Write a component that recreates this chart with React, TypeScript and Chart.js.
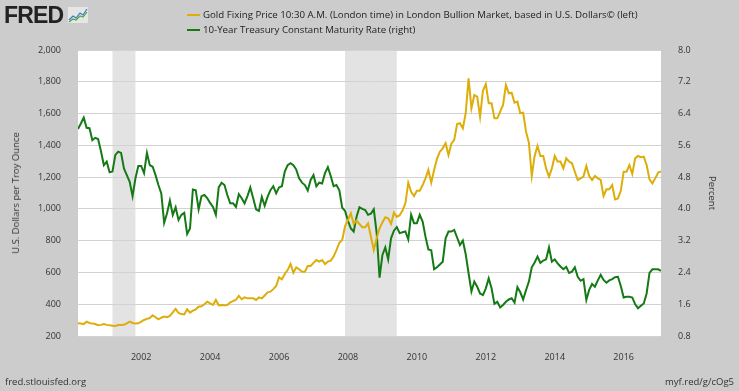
import React, { useEffect, useRef } from "react";
import { Chart, registerables } from "chart.js";

Chart.register(...registerables);

// Monthly observations, March 2000 .. February 2017
const START_YEAR = 2000;
const START_MONTH = 3;

const goldPrice = [
  // 2000 (Mar-Dec)
  280, 278, 275, 290, 282, 278, 275, 268, 270, 275,
  // 2001
  270, 267, 265, 263, 269, 270, 271, 280, 290, 282, 278, 280,
  // 2002
  290, 301, 308, 313, 330, 318, 305, 315, 322, 318, 326, 348,
  // 2003
  370, 345, 338, 336, 368, 347, 360, 368, 384, 387, 400, 416,
  // 2004
  405, 395, 427, 393, 395, 394, 395, 412, 420, 428, 452, 431,
  // 2005
  443, 437, 437, 437, 427, 443, 437, 455, 475, 479, 495, 515,
  // 2006
  569, 557, 590, 615, 653, 598, 632, 620, 605, 605, 641, 641,
  // 2007
  660, 678, 668, 678, 653, 668, 674, 700, 741, 787, 804, 892,
  // 2008
  930, 972, 905, 926, 905, 884, 884, 909, 825, 741, 815, 878,
  // 2009
  915, 947, 941, 905, 976, 950, 960, 990, 1035, 1165, 1108, 1081,
  // 2010
  1114, 1114, 1150, 1192, 1245, 1165, 1245, 1315, 1360, 1381, 1413, 1339,
  // 2011
  1410, 1434, 1534, 1539, 1507, 1602, 1822, 1633, 1717, 1706, 1580, 1744,
  // 2012
  1786, 1665, 1665, 1570, 1570, 1612, 1654, 1780, 1727, 1731, 1668, 1675,
  // 2013
  1602, 1606, 1486, 1417, 1207, 1333, 1396, 1333, 1333, 1255, 1203, 1255,
  // 2014
  1333, 1298, 1298, 1255, 1318, 1298, 1287, 1234, 1182, 1192, 1203, 1270,
  // 2015
  1207, 1182, 1207, 1192, 1182, 1081, 1123, 1123, 1150, 1060, 1066, 1114,
  // 2016
  1234, 1234, 1276, 1220, 1318, 1333, 1325, 1329, 1276, 1186, 1161, 1192,
  // 2017 (Jan-Feb)
  1228, 1235,
];

const treasuryRate = [
  // 2000 (Mar-Dec)
  6.01, 6.15, 6.3, 6.04, 6.03, 5.73, 5.79, 5.76, 5.45, 5.1,
  // 2001
  5.19, 4.92, 4.94, 5.36, 5.44, 5.41, 5.02, 4.85, 4.68, 4.32, 4.77, 5.08,
  // 2002
  5.08, 4.9, 5.41, 5.1, 5.06, 4.85, 4.6, 4.39, 3.65, 3.89, 4.21, 3.85,
  // 2003
  4.04, 3.72, 3.85, 3.9, 3.37, 3.51, 4.49, 4.47, 3.99, 4.32, 4.35, 4.27,
  // 2004
  4.15, 4.05, 3.85, 4.54, 4.66, 4.6, 4.35, 4.14, 4.14, 4.05, 4.37, 4.27,
  // 2005
  4.14, 4.32, 4.54, 4.27, 3.99, 3.95, 4.3, 4.08, 4.3, 4.47, 4.57, 4.39,
  // 2006
  4.54, 4.57, 4.94, 5.1, 5.15, 5.1, 4.99, 4.77, 4.66, 4.6, 4.46, 4.73,
  // 2007
  4.85, 4.57, 4.66, 4.64, 4.9, 5.05, 4.83, 4.57, 4.6, 4.47, 4.03, 3.95,
  // 2008
  3.7, 3.51, 3.43, 3.8, 4.04, 4.0, 3.97, 3.85, 3.88, 3.99, 3.39, 2.27,
  // 2009
  2.84, 3.03, 2.73, 3.26, 3.45, 3.54, 3.39, 3.41, 3.43, 3.23, 3.85, 3.64,
  // 2010
  3.64, 3.85, 3.68, 3.3, 2.98, 2.96, 2.48, 2.53, 2.6, 2.67, 3.26, 3.43,
  // 2011
  3.43, 3.47, 3.28, 3.09, 3.2, 2.86, 2.38, 1.92, 2.17, 2.04, 1.87, 1.83,
  // 2012
  2.0, 2.25, 2.0, 1.61, 1.66, 1.52, 1.58, 1.66, 1.72, 1.75, 1.64, 2.03,
  // 2013
  1.9, 1.72, 1.95, 2.17, 2.53, 2.65, 2.8, 2.64, 2.7, 2.73, 3.03, 2.67,
  // 2014
  2.73, 2.63, 2.55, 2.48, 2.54, 2.39, 2.42, 2.53, 2.29, 2.19, 2.23, 1.71,
  // 2015
  1.96, 2.11, 2.04, 2.2, 2.34, 2.21, 2.14, 2.2, 2.23, 2.28, 2.29, 2.06,
  // 2016
  1.77, 1.79, 1.79, 1.77, 1.6, 1.5, 1.56, 1.62, 1.87, 2.39, 2.48, 2.48,
  // 2017 (Jan-Feb)
  2.48, 2.44,
];

const leftTicks = [200, 400, 600, 800, 1000, 1200, 1400, 1600, 1800, 2000];
const rightTicks = [0.8, 1.6, 2.4, 3.2, 4.0, 4.8, 5.6, 6.4, 7.2, 8.0];
const yearTicks = [2002, 2004, 2006, 2008, 2010, 2012, 2014, 2016];
const recessionStarts = ["2001-03", "2007-12"];
const recessionEnds = ["2001-11", "2009-06"];

const goldLabel =
  "Gold Fixing Price 10:30 A.M. (London time) in London Bullion Market, based in U.S. Dollars\u00A9 (left)";
const rateLabel = "10-Year Treasury Constant Maturity Rate (right)";

const GOLD = "#ddae0a";
const GREEN = "#157a15";
const BG = "#cccccc";
const FONT = "'Open Sans', 'DejaVu Sans', sans-serif";

const toYear = (s: string) => {
  const [y, m] = s.split("-").map(Number);
  return y + (m - 1) / 12;
};
const monthPos = (i: number) => START_YEAR + (START_MONTH - 1 + i) / 12;

const bgPlugin = {
  id: "fredBackground",
  beforeDraw(chart: any) {
    const { ctx, chartArea, scales } = chart;
    ctx.save();
    ctx.fillStyle = "#ffffff";
    ctx.fillRect(chartArea.left, chartArea.top, chartArea.right - chartArea.left, chartArea.bottom - chartArea.top);
    ctx.fillStyle = "#e3e3e3";
    recessionStarts.forEach((s, i) => {
      const x0 = scales.x.getPixelForValue(toYear(s));
      const x1 = scales.x.getPixelForValue(toYear(recessionEnds[i]));
      ctx.fillRect(x0, chartArea.top, x1 - x0, chartArea.bottom - chartArea.top);
    });
    ctx.restore();
  },
};

function FredIcon() {
  return (
    <svg width="20" height="16" viewBox="0 0 20 16" style={{ position: "absolute", left: 68, top: 7 }}>
      <rect x="0" y="0" width="20" height="16" fill="#e6e6e6" />
      <polyline points="1,13 5,9 8,11 12,6 15,8 19,2" fill="none" stroke="#3a7bbf" strokeWidth="1.2" />
      <polyline points="1,15 5,12 8,13 12,9 15,10 19,5" fill="none" stroke="#4aa54a" strokeWidth="1.2" />
    </svg>
  );
}

export default function App() {
  const canvasRef = useRef<HTMLCanvasElement | null>(null);

  useEffect(() => {
    const canvas = canvasRef.current;
    if (!canvas) return;
    const tickFont = { family: FONT, size: 9 };
    const chart = new Chart(canvas, {
      type: "line",
      data: {
        datasets: [
          {
            label: goldLabel,
            data: goldPrice.map((v, i) => ({ x: monthPos(i), y: v })),
            yAxisID: "yL",
            borderColor: GOLD,
            borderWidth: 2,
            pointRadius: 0,
            tension: 0,
          },
          {
            label: rateLabel,
            data: treasuryRate.map((v, i) => ({ x: monthPos(i), y: v })),
            yAxisID: "yR",
            borderColor: GREEN,
            borderWidth: 2,
            pointRadius: 0,
            tension: 0,
          },
        ],
      },
      options: {
        responsive: false,
        animation: false,
        devicePixelRatio: 1,
        layout: { padding: { top: 50, left: 0, right: 0, bottom: 0 } },
        plugins: { legend: { display: false }, tooltip: { enabled: false } },
        scales: {
          x: {
            type: "linear",
            min: monthPos(0),
            max: monthPos(goldPrice.length - 1),
            grid: { display: false },
            border: { display: false },
            afterBuildTicks: (s: any) => {
              s.ticks = yearTicks.map((v) => ({ value: v }));
            },
            afterFit: (s: any) => {
              s.height = 55;
            },
            ticks: {
              autoSkip: false,
              maxRotation: 0,
              padding: 8,
              color: "#333",
              font: tickFont,
              callback: (v: any) => String(v),
            },
          },
          yL: {
            type: "linear",
            position: "left",
            min: 200,
            max: 2000,
            afterBuildTicks: (s: any) => {
              s.ticks = leftTicks.map((v) => ({ value: v }));
            },
            afterFit: (s: any) => {
              s.width = 78;
            },
            grid: { color: "#d2d2d2", lineWidth: 1, drawTicks: false },
            border: { display: false },
            ticks: {
              padding: 17,
              color: "#333",
              font: tickFont,
              callback: (v: any) => Number(v).toLocaleString("en-US"),
            },
          },
          yR: {
            type: "linear",
            position: "right",
            min: 0.8,
            max: 8.0,
            afterBuildTicks: (s: any) => {
              s.ticks = rightTicks.map((v) => ({ value: v }));
            },
            afterFit: (s: any) => {
              s.width = 78;
            },
            grid: { display: false, drawTicks: false },
            border: { display: false },
            ticks: {
              padding: 17,
              color: "#333",
              font: tickFont,
              callback: (v: any) => Number(v).toFixed(1),
            },
          },
        },
      },
      plugins: [bgPlugin],
    } as any);
    return () => chart.destroy();
  }, []);

  const text: React.CSSProperties = {
    position: "absolute",
    fontFamily: FONT,
    color: "#222",
    whiteSpace: "nowrap",
    lineHeight: "12px",
  };

  return (
    <div style={{ position: "fixed", left: 0, top: 0, width: 739, height: 391, background: BG, overflow: "hidden" }}>
      <canvas ref={canvasRef} width={739} height={391} style={{ position: "absolute", left: 0, top: 0 }} />
      <div
        style={{
          position: "absolute",
          left: 4,
          top: 4,
          fontFamily: "'Liberation Sans', Arial, sans-serif",
          fontWeight: 900,
          fontSize: 23,
          lineHeight: "22px",
          letterSpacing: -0.8,
          color: "#222",
        }}
      >
        FRED
      </div>
      <FredIcon />
      <div style={{ position: "absolute", left: 187, top: 14, width: 13, height: 2, background: GOLD }} />
      <div style={{ ...text, left: 203, top: 9, fontSize: 9.7 }}>{goldLabel}</div>
      <div style={{ position: "absolute", left: 187, top: 29, width: 13, height: 2, background: GREEN }} />
      <div style={{ ...text, left: 203, top: 24, fontSize: 9.7 }}>{rateLabel}</div>
      <div
        style={{
          ...text,
          fontSize: 9.5,
          color: "#333",
          left: 16,
          top: 193,
          transform: "translate(-50%, -50%) rotate(-90deg)",
        }}
      >
        U.S. Dollars per Troy Ounce
      </div>
      <div
        style={{
          ...text,
          fontSize: 9.5,
          color: "#333",
          left: 712,
          top: 193,
          transform: "translate(-50%, -50%) rotate(90deg)",
        }}
      >
        Percent
      </div>
      <div style={{ ...text, fontSize: 9.5, color: "#333", left: 5, top: 376 }}>fred.stlouisfed.org</div>
      <div style={{ ...text, fontSize: 9.5, color: "#333", right: 5, top: 376 }}>myf.red/g/cOg5</div>
    </div>
  );
}
